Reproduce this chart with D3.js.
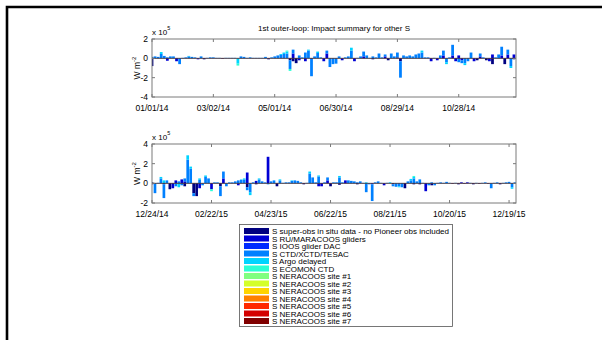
<!DOCTYPE html>
<html>
<head>
<meta charset="utf-8">
<script src="https://cdn.jsdelivr.net/npm/d3@7"></script>
<style>
  body { margin: 0; background: #fff; }
  svg text { font-family: "Liberation Sans", Arial, Helvetica, sans-serif; }
</style>
</head>
<body>
<script>
// legend entries and jet-like colours
var seriesNames = ["S super-obs in situ data - no Pioneer obs included", "S RU/MARACOOS gliders",
  "S IOOS glider DAC", "S CTD/XCTD/TESAC", "S Argo delayed", "S ECOMON CTD",
  "S NERACOOS site #1", "S NERACOOS site #2", "S NERACOOS site #3", "S NERACOOS site #4",
  "S NERACOOS site #5", "S NERACOOS site #6", "S NERACOOS site #7"];
var seriesColors = ["#000080", "#0000d4", "#002aff", "#0080ff", "#00d4ff", "#2affd4", "#80ff80",
  "#d4ff2a", "#ffd400", "#ff8000", "#ff2a00", "#d40000", "#800000"];

// ---- 2014 panel (3-day cycles from 2014-01-01), units of 1e5 W m^-2
var topTicks = ["2014-01-01", "2014-03-02", "2014-05-01", "2014-06-30", "2014-08-29", "2014-10-28"];
var topNavy = [-0.8,0,0,0,0,0,0,0,0,0, 0,0,0,0,0,0,0,-0.1,0,0, 0,0,0,-0.05,0,0,0,0,0,0,
  0,0,0,0,0,0,0,0,-0.1,0, 0,0,0,0,0,-0.2,-0.3,-0.5,0,0, 0,0,-0.05,0,0,0,0,0,0,0,
  0,0,0,0,0,0,0,0,0,0, 0,0,-0.1,0,0,0,0,-0.2,0,0, 0.1,-0.3,0,0,0,0,0,0,0,0,
  0,0,0,0,0,0,0,0,0,0, 0,0,0,0,0,0,-0.2,0,0,-0.2, 0,-0.6,0,0,0,-0.6,0,0,-0.1];
var topGliders = [0,0,0,0,0,-0.25,0,0,-0.3,0, 0,0,0,0,0,-0.1,0,0,0,0, 0,0,0,0,0,0,0,0,0,0,
  0,0,0,0,0,0,0,0,0,0, 0,0,0,0,0,0,0.5,0,-0.2,0, -0.3,0,0,0,0,0,-0.3,0.5,0,0,
  0,0,-0.2,0,0,0,-0.3,0,0,0.2, 0,0,0,0,0,0,0.2,0,0,0, 0,0,0,0,0,0,0,0,0,0,
  0,-0.3,0,-0.2,0,0.3,0,0,0.3,-0.3, 0.3,-0.2,0,0,0,-0.3,0,0.2,0,0, -0.3,0.4,0,0,0.3,0,0.4,0,0.4];
var topCtd = [0.15,0.2,0.15,0.45,0.25,0.1,0.2,0.2,0,-0.6, 0.05,0.1,0.2,0.15,0.1,0,0.2,0,0.05,0.1,
  0.1,0.05,0.05,0,0.05,0.05,0.05,0.05,0,0.2, 0.15,0.05,0.1,0.05,0.05,0.05,0.05,0.15,0,0.1,
  0.2,0.3,0.35,0.45,0.5,-0.9,0.4,0,0.3,0.1, 0.6,0.8,-1.8,0.2,0.55,0.1,0,0.3,-0.9,-0.6,
  -0.55,0.2,0,0.1,0.2,0.8,0,0.05,0.2,0.5, 0.3,0.05,0.2,0.1,0.5,0.1,0.2,0,0.5,0.2,
  0.5,-1.7,0.3,0.2,0.3,0.2,0.4,0.5,0.6,0.1, 0.1,0,0.05,0,0.3,0.5,-0.4,0.1,1.1,0,
  -0.4,-0.3,-0.5,-0.3,0.6,0,0,0.3,0.1,0, 0,0,0.1,0.4,0.9,0,0.5,-0.8,0];
var topArgo = [0,0,0,0.2,0,0,0,0,0,0, 0,0,0.05,0,0,0,0,0,0,0, 0,0,0,0,0,0,0,0,-0.55,0,
  0,0,0,0,0,0,0,0,0,0, 0,0,0.1,0.15,0.2,0,0,0,0,0, 0,0.1,0,0,0.15,0,0,0,0,0,
  0,0,0,0,0,0.3,0,0,0,0, 0,0,0,0,0,0,0,0,0,0, 0,0,0,0,0,0,0,0,0.2,0,
  0,0,0,0,0,0,-0.2,0,0,0, 0,0,-0.2,0,0,0,0,0,0,0, 0,0,0,0,0,0,0,-0.2,0];
var topEcomon = [0,0,0,0,0,0,0,0,0,0, 0,0,0,0,0,0,0,0,0,0, 0,0,0,0,0,0,0,0,-0.2,0,
  0,0,0,0,0,0,0,0,0,0, 0,0,0,0,0.1,-0.2,0,0,0,0, 0,0,0,0,0,0,0,0,0,0,
  0,0,0,0,0,0,0,0,0,0, 0,0,0,0,0,0,0,0,0,0, 0,0,0,0,0,0,0,0,0,0,
  0,0,0,0,0,0,0,0,0,0, 0,0,0,0,0,0,0,0,0,0, 0,0,0,0,0,0,0,0,0];

// ---- 2015 panel (3-day cycles from 2014-12-24)
var botTicks = ["2014-12-24", "2015-02-22", "2015-04-23", "2015-06-22", "2015-08-21", "2015-10-20", "2015-12-19"];
var botNavy = [0.1,0,0,0,-0.1,0,-0.6,0,0,0, 0,-0.3,0,0,-1.0,-1.3,0,0,0,0, 0,0,0,-0.3,0,0,0,0,0,0,
  0,0,-0.4,0,0,-0.1,0,0,0,0, 0,0,-0.3,0,0,0,0,0,0,0, 0,-0.1,0,0,0,0,0,0,0,0,
  -0.3,0,0,-0.15,0,0,0,0,0,-0.1, 0,0,0,0,0,0,0,0,0,0, 0,-0.1,0,0,0,-0.5,0,0,-0.1,0,
  -0.1,0,0,0,-0.2,0,0,0,0,0, 0,-0.05,0,-0.1,0,-0.05,0,0,-0.1,0, -0.05,0,0,-0.05,0,0,0,-0.1,0,0,
  0,0,0];
var botGliders = [-0.1,0,0,0,0,0,0,-0.5,0.3,0, 0.4,0.2,0,0,0,0,-0.5,0,0,0, -0.6,0,0,0,0.5,0,0,0,0,-0.2,
  0,0,1.1,0,0,0.25,0,0,0,2.7, 0,0,0,0,0,0,0,0,0,0, 0,0,0,0,0,0,-0.3,-0.3,0,0.3,
  0,0,0,0,0,0.3,0,0,0,0, 0,0,0,0,0,0,0,0,-0.2,0, 0,0,0,0,0,0,0,0,0,0,
  0,0,-0.8,0,0,0,0,0,0,0, 0,0,0,0,0.1,0,0.1,0,0,0, 0,0,0,0,0,0,0,0,0,0,
  0,0,0];
var botIoos = [0,0,0,0,0,0,0,0,0,0, 0,0,0,0,0,0,0,0,0,0, 0,0,0,0,0,0,0,0,0,0,
  0,0,0,0,0,0,0,0,0,0, 0,0,0,0,0,0,0,0,0,0, 0,0,0,0,0,0,0,0,0,0,
  0,0,0,0,0,0,0,0,0,0, 0,0,0,0,-0.1,0,0,0,0,0, 0,0,0,0,0,0,0,0,0,0,
  0,0,0,0,0,0,0,0,0,0, 0,0,0,0,0,0,0,0,0,0, 0,0,0,0,0,0,0,0,0,0,
  0,0,0];
var botCtd = [0,-1.0,0.05,0.5,-1.4,0.3,0,0,-0.3,0.2, -0.2,0.3,2.4,1.5,-0.3,0,0.35,-0.2,0.65,0.5,
  0,0.1,0.1,-1.0,0.7,-0.3,0.1,0.1,0.2,0.3, 0.35,0.4,-0.3,-0.9,0.1,0,0.4,0.2,0.1,-0.1,
  0.2,0.3,0,0.3,0.05,0.1,0.1,0.25,0.3,0.25, 0.1,0,0.05,1.0,0.6,0.1,0.7,0,0.1,0.3,
  0,0.1,0.1,0.6,0.1,0,0.3,0.25,0.2,0.1, 0.2,0.05,-0.9,-0.1,-1.7,0.1,0.2,0.05,0,0.05,
  0,-0.2,-0.35,-0.3,-0.4,0,0.2,0.3,0.5,0.2, 0.4,0.05,0,-0.2,0.1,-0.2,0.05,0.1,0.05,0.15,
  0.05,0,0.05,0,0,0,0,0.05,0,0.05, 0,0.05,0.1,0,-0.5,0.05,0.1,0,0.05,0.1,
  0.15,-0.4,0.1];
var botArgo = [0,0,0,0.15,0.3,0,0,0,0,-0.4, 0,0,0.45,0.2,0,0,0.15,0,0.15,0, 0,0,0,0,0,0,0,0,0,0,
  0.05,0.1,0,-0.3,0,0,0.1,0,0,0, 0,0,0,0.1,0,0,0,0.05,0,0, 0,0,0,0.2,0,0,0.1,0,0,0,
  0,0,0,0.15,0,0,0,0,0,0, 0,0,0.1,0,0,0,0,0,0,0, 0.1,0,0,-0.1,0,0,0,0.15,0.15,0,
  0,0,0,0,0,0,0,0,0,0, 0,0,0,0,0,0,0,0,0,0, 0,0,0,0,0,0,0,0,0,0,
  0,-0.15,0];
var botEcomon = [0,0,0,0,0,0,0,0,0,0, 0,0,0,0,0,0,0,0,0,0, -0.2,0,0,0,0,0,0,0,0,0,
  0,0,0,0,0,0,0,0,0,0, 0,0,0,0,0,0,0,0,0,0, 0,0,0,0,0,0,0,0,0,0,
  0,0,0,0,0,0,0,0,0,0, 0,0,0,0,0,0,0,0,0,0, 0,0,0,0,0,0,0,0,0.1,0,
  0,0,0,0,0,0,0,0,0,0, 0,0,0,0,0,0,0,0,0,0, 0,0,0,0,0,0,0,0,0,0,
  0,0,0];

var parse = d3.utcParse("%Y-%m-%d");
var fmt = d3.utcFormat("%m/%d/%y");

var svg = d3.select("body").append("svg").attr("width", 602).attr("height", 340);

// figure frame
svg.append("path").attr("d", "M7,340V7H602").attr("fill", "none")
   .attr("stroke", "#000").attr("stroke-width", 2.6);

svg.append("text").attr("x", 334).attr("y", 31).attr("text-anchor", "middle")
   .style("font-size", "8px").text("1st outer-loop: Impact summary for other S");

function drawPanel(p, id) {
  var left = 152, right = 516;
  var x = d3.scaleUtc().domain([parse(p.start), parse(p.end)]).range([left, right]);
  var y = d3.scaleLinear().domain(p.yDomain).range([p.bottom, p.top]);
  var n = p.series[0].vals.length;
  var keys = p.series.map(function(s){ return s.idx; });
  var rows = d3.range(n).map(function(i){
    var r = {date: d3.utcDay.offset(parse(p.start), 3 * i)};
    p.series.forEach(function(s){ r[s.idx] = s.vals[i]; });
    return r;
  });
  var stacked = d3.stack().keys(keys).offset(d3.stackOffsetDiverging)(rows);
  var bw = (x(d3.utcDay.offset(parse(p.start), 3)) - x(parse(p.start))) * 0.9;

  svg.append("clipPath").attr("id", id).append("rect")
     .attr("x", left).attr("y", p.top).attr("width", right - left).attr("height", p.bottom - p.top);

  var g = svg.append("g").attr("clip-path", "url(#" + id + ")");
  g.selectAll("g").data(stacked).enter().append("g")
    .attr("fill", function(d){ return seriesColors[d.key]; })
    .selectAll("rect").data(function(d){ return d; }).enter().append("rect")
    .attr("x", function(d){ return x(d.data.date) - bw / 2; })
    .attr("width", bw)
    .attr("y", function(d){ return y(Math.max(d[0], d[1])); })
    .attr("height", function(d){ return Math.abs(y(d[0]) - y(d[1])); });

  // bar baseline
  svg.append("line").attr("x1", left).attr("x2", right).attr("y1", y(0)).attr("y2", y(0))
     .attr("stroke", "#3a2020").attr("stroke-width", 0.8);

  // box
  svg.append("rect").attr("x", left).attr("y", p.top).attr("width", right - left)
     .attr("height", p.bottom - p.top).attr("fill", "none").attr("stroke", "#7a7a7a").attr("stroke-width", 1);

  var tickDates = p.ticks.map(parse);
  var ax = svg.append("g").attr("stroke", "#7a7a7a").attr("stroke-width", 1);
  tickDates.forEach(function(t){
    ax.append("line").attr("x1", x(t)).attr("x2", x(t)).attr("y1", p.bottom).attr("y2", p.bottom - 3);
    ax.append("line").attr("x1", x(t)).attr("x2", x(t)).attr("y1", p.top).attr("y2", p.top + 3);
  });
  p.yTicks.forEach(function(v){
    ax.append("line").attr("x1", left).attr("x2", left + 3).attr("y1", y(v)).attr("y2", y(v));
    ax.append("line").attr("x1", right).attr("x2", right - 3).attr("y1", y(v)).attr("y2", y(v));
  });

  svg.append("g").selectAll("text").data(tickDates).enter().append("text")
     .attr("x", function(d){ return x(d); }).attr("y", p.bottom + 14)
     .attr("text-anchor", "middle").style("font-size", "8.5px").text(fmt);
  svg.append("g").selectAll("text").data(p.yTicks).enter().append("text")
     .attr("x", left - 4).attr("y", function(d){ return y(d) + 3; })
     .attr("text-anchor", "end").style("font-size", "8.5px").text(function(d){ return d; });

  var ex = svg.append("text").attr("x", left).attr("y", p.top - 4).style("font-size", "8px");
  ex.append("tspan").text("x 10");
  ex.append("tspan").attr("dy", -5).style("font-size", "5.5px").text("5");

  var yl = svg.append("text")
     .attr("transform", "translate(" + (left - 12) + "," + ((p.top + p.bottom) / 2) + ") rotate(-90)")
     .attr("text-anchor", "middle").style("font-size", "8.5px");
  yl.append("tspan").text("W m");
  yl.append("tspan").attr("dy", -4).style("font-size", "6px").text("-2");
}

drawPanel({start: "2014-01-01", end: "2014-12-23", top: 39, bottom: 97, yDomain: [-4, 2],
  yTicks: [-4, -2, 0, 2], ticks: topTicks,
  series: [{idx: 0, vals: topNavy}, {idx: 1, vals: topGliders}, {idx: 3, vals: topCtd},
           {idx: 4, vals: topArgo}, {idx: 5, vals: topEcomon}]}, "clipTop");

drawPanel({start: "2014-12-24", end: "2015-12-26", top: 144, bottom: 203, yDomain: [-2, 4],
  yTicks: [-2, 0, 2, 4], ticks: botTicks,
  series: [{idx: 0, vals: botNavy}, {idx: 1, vals: botGliders}, {idx: 2, vals: botIoos},
           {idx: 3, vals: botCtd}, {idx: 4, vals: botArgo}, {idx: 5, vals: botEcomon}]}, "clipBot");

// legend
var lg = svg.append("g");
lg.append("rect").attr("x", 239.5).attr("y", 224.5).attr("width", 213).attr("height", 102)
  .attr("fill", "#fff").attr("stroke", "#555").attr("stroke-width", 0.8);
seriesNames.forEach(function(name, i){
  var cy = 231 + i * 7.5;
  lg.append("rect").attr("x", 244).attr("y", cy - 3).attr("width", 25).attr("height", 6)
    .attr("fill", seriesColors[i]);
  lg.append("text").attr("x", 272).attr("y", cy + 3).style("font-size", "8px").text(name);
});
</script>
</body>
</html>
